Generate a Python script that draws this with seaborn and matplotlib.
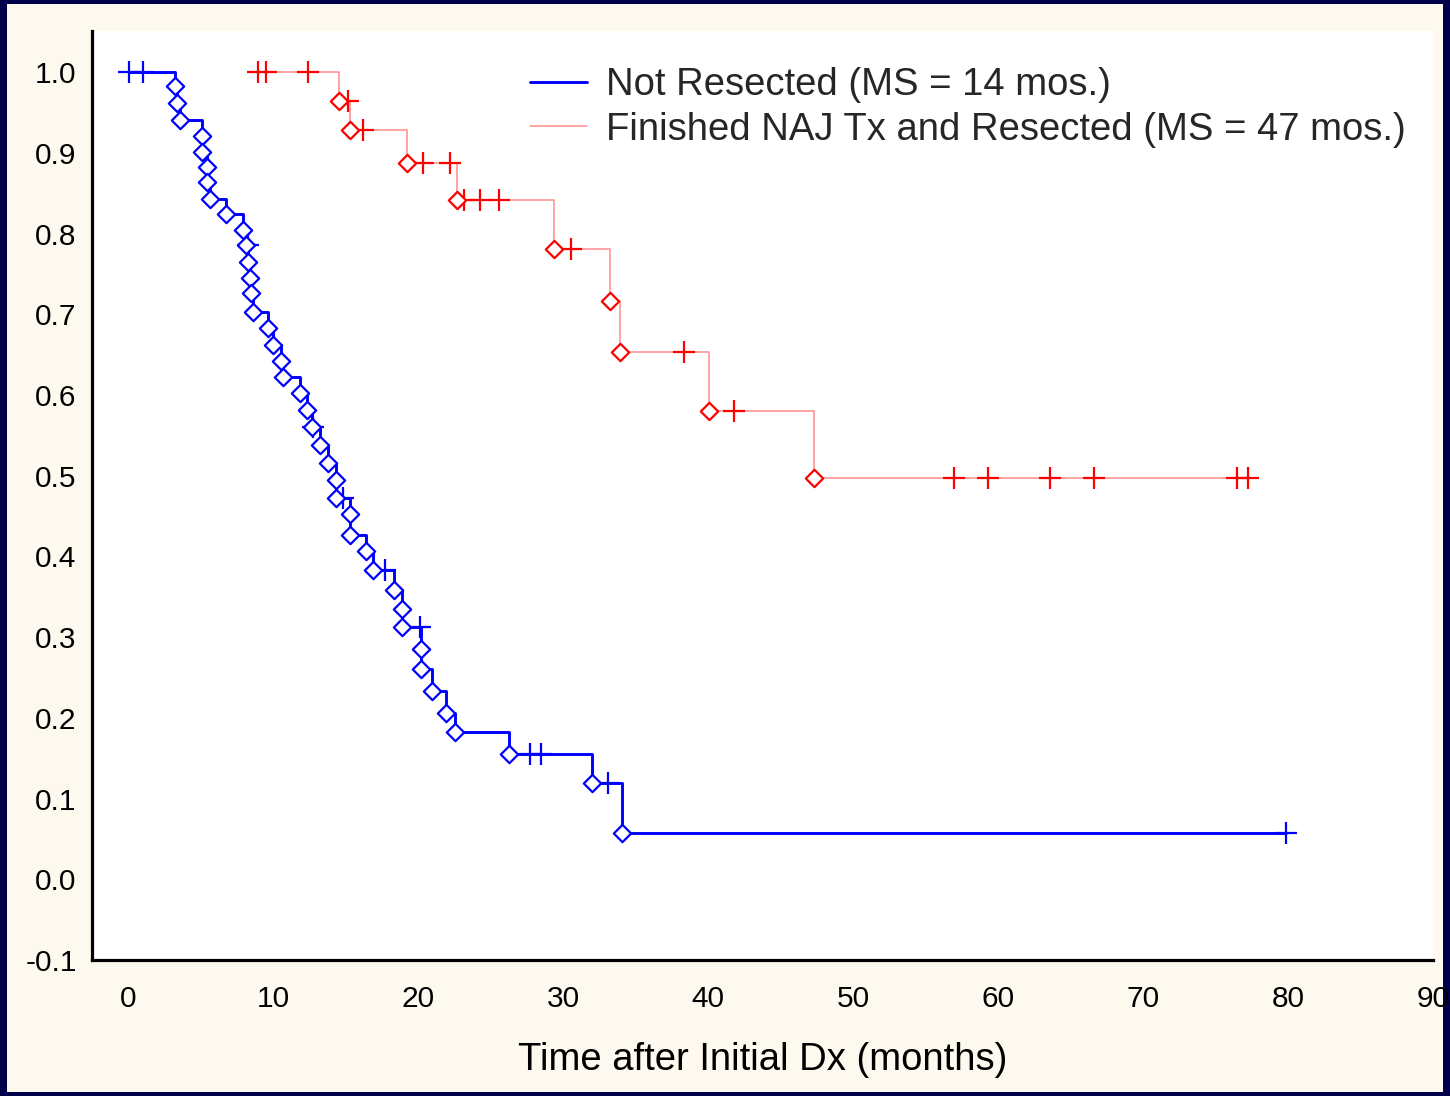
import numpy as np
import pandas as pd
import matplotlib
matplotlib.use("Agg")
import matplotlib.pyplot as plt
from matplotlib.patches import Rectangle
from matplotlib.lines import Line2D
import seaborn as sns

# ---------------- data ----------------
# Not Resected: completed (death) events -> time (months), survival after event
nr_event_t = [3.22, 3.40, 3.59, 5.09, 5.11, 5.47, 5.47, 5.66, 6.76, 7.96,
              8.14, 8.30, 8.42, 8.47, 8.65, 9.64, 10.03, 10.56, 10.72, 11.87,
              12.33, 12.68, 13.25, 13.82, 14.35, 14.35, 15.32, 15.32, 16.43, 16.89,
              18.38, 18.93, 18.93, 20.22, 20.22, 21.00, 21.95, 22.52, 26.30, 32.00,
              34.07]
nr_event_s = [0.983, 0.962, 0.941, 0.921, 0.901, 0.883, 0.864, 0.843, 0.824, 0.804,
              0.786, 0.765, 0.745, 0.726, 0.703, 0.683, 0.662, 0.642, 0.622, 0.602,
              0.581, 0.560, 0.538, 0.516, 0.495, 0.472, 0.452, 0.426, 0.407, 0.383,
              0.358, 0.335, 0.312, 0.285, 0.261, 0.233, 0.206, 0.182, 0.155, 0.119,
              0.057]
# Not Resected: censored observations
nr_cens_t = [0.07, 1.06, 8.28, 12.77, 14.86, 17.74, 20.15, 27.74, 28.50, 33.10, 79.85]
nr_cens_s = [1.0, 1.0, 0.786, 0.560, 0.472, 0.383, 0.312, 0.155, 0.155, 0.119, 0.057]

# Finished NAJ Tx and Resected
rs_event_t = [14.58, 15.32, 19.23, 22.68, 29.35, 33.26, 33.90, 40.05, 47.30]
rs_event_s = [0.964, 0.928, 0.887, 0.842, 0.781, 0.717, 0.653, 0.580, 0.497]
rs_cens_t = [8.97, 9.49, 12.40, 15.20, 16.24, 20.38, 22.22, 23.20, 24.30, 25.56,
             30.55, 38.37, 41.77, 56.94, 59.28, 63.56, 66.60, 76.47, 77.23]
rs_cens_s = [1.0, 1.0, 1.0, 0.964, 0.928, 0.887, 0.887, 0.842, 0.842, 0.842,
             0.781, 0.653, 0.580, 0.497, 0.497, 0.497, 0.497, 0.497, 0.497]

series_labels = ["Not Resected (MS = 14 mos.)",
                 "Finished NAJ Tx and Resected (MS = 47 mos.)"]
x_ticks = [0, 10, 20, 30, 40, 50, 60, 70, 80, 90]
y_ticks = [-0.1, 0.0, 0.1, 0.2, 0.3, 0.4, 0.5, 0.6, 0.7, 0.8, 0.9, 1.0]
x_label = "Time after Initial Dx (months)"

# ---------------- style ----------------
sns.set_theme(style="white")
plt.rcParams["font.family"] = ["Liberation Sans", "DejaVu Sans"]

BLUE = "#0000ff"
RED = "#ff0000"
RED_LINE = "#ff8c8c"

W, H = 1450, 1096
fig = plt.figure(figsize=(W / 100, H / 100), dpi=100)
fig.patch.set_facecolor("#00004a")
fig.add_artist(Rectangle((7 / W, 4 / H), (1443 - 7) / W, (1092 - 4) / H,
                         transform=fig.transFigure, facecolor="#fdf9ee",
                         edgecolor="none", zorder=0))

ax = fig.add_axes([92 / W, 1 - 960 / H, (1433 - 92) / W, (960 - 31) / H])
ax.set_facecolor("white")


def step_frame(ev_t, ev_s, ce_t, ce_s):
    start = min(ev_t[0], ce_t[0])
    end = max(ev_t[-1], ce_t[-1])
    t = [start] + list(ev_t) + [end]
    s = [1.0] + list(ev_s) + [ev_s[-1] if ev_t[-1] <= end else ce_s[-1]]
    return pd.DataFrame({"t": t, "s": s})


nr_steps = step_frame(nr_event_t, nr_event_s, nr_cens_t, nr_cens_s)
rs_steps = step_frame(rs_event_t, rs_event_s, rs_cens_t, rs_cens_s)

sns.lineplot(data=nr_steps, x="t", y="s", drawstyle="steps-post", estimator=None,
             sort=False, color=BLUE, linewidth=2.1, ax=ax, zorder=2)
sns.lineplot(data=rs_steps, x="t", y="s", drawstyle="steps-post", estimator=None,
             sort=False, color=RED_LINE, linewidth=1.1, ax=ax, zorder=2)

# censored marks
sns.scatterplot(x=nr_cens_t, y=nr_cens_s, marker="+", s=230, linewidth=1.6,
                color=BLUE, ax=ax, zorder=3)
sns.scatterplot(x=rs_cens_t, y=rs_cens_s, marker="+", s=230, linewidth=1.6,
                color=RED, ax=ax, zorder=3)
# complete (event) marks
sns.scatterplot(x=nr_event_t, y=nr_event_s, marker="D", s=78, linewidth=1.6,
                color="white", edgecolor=BLUE, ax=ax, zorder=4)
sns.scatterplot(x=rs_event_t, y=rs_event_s, marker="D", s=78, linewidth=1.6,
                color="white", edgecolor=RED, ax=ax, zorder=4)

ax.set_xlim(-2.48, 90)
ax.set_ylim(-0.1, 1.051)
ax.set_xticks(x_ticks)
ax.set_xticklabels([str(v) for v in x_ticks])
ax.set_yticks(y_ticks)
ax.set_yticklabels([f"{v:.1f}" for v in y_ticks])

for side in ["top", "right"]:
    ax.spines[side].set_visible(False)
for side in ["left", "bottom"]:
    ax.spines[side].set_color("black")
    ax.spines[side].set_linewidth(2.3)

ax.tick_params(axis="both", direction="in", length=4, width=2, colors="black",
               labelsize=21.5)
ax.tick_params(axis="x", pad=18)
ax.tick_params(axis="y", pad=11)
ax.set_xlabel(x_label, fontsize=27.5, labelpad=21, color="black")
ax.set_ylabel("")

handles = [Line2D([], [], color=BLUE, linewidth=2.1),
           Line2D([], [], color=RED_LINE, linewidth=1.1)]
ax.legend(handles, series_labels, loc="upper left",
          bbox_to_anchor=((530 - 92) / (1433 - 92), (960 - 67) / (960 - 31)),
          frameon=False, fontsize=27.5, handlelength=1.5, handletextpad=0.5,
          labelspacing=0.23, borderpad=0, borderaxespad=0)

fig.savefig("out.png", dpi=100, facecolor=fig.get_facecolor())
